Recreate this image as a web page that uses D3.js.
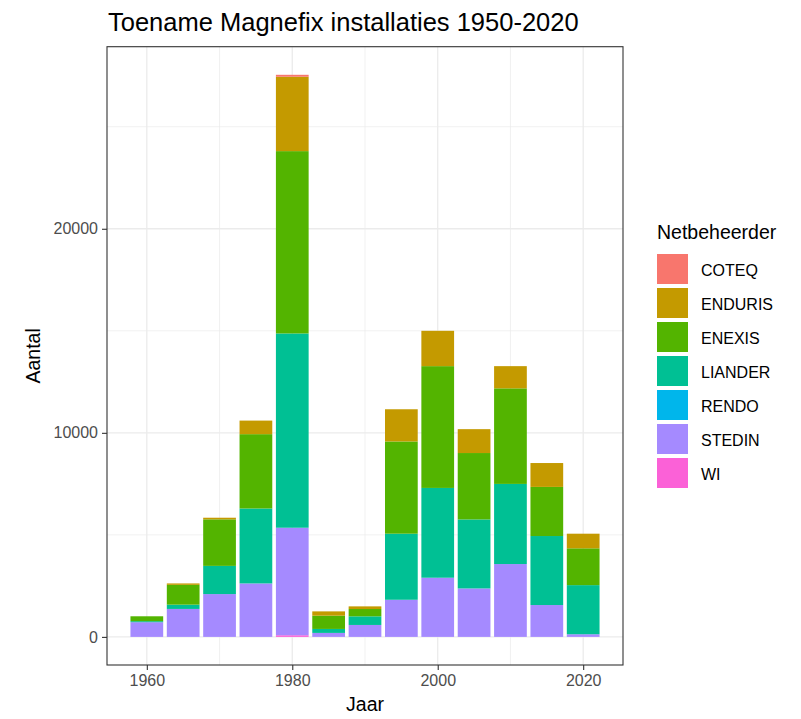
<!DOCTYPE html>
<html>
<head>
<meta charset="utf-8">
<script src="https://cdn.jsdelivr.net/npm/d3@7"></script>
<style>
  html, body { margin: 0; padding: 0; background: #fff; }
  svg { display: block; font-family: "Liberation Sans", Arial, Helvetica, sans-serif; }
</style>
</head>
<body>
<svg id="chart" width="801" height="719"></svg>
<script>
// ---- data ----
const years   = [1960, 1965, 1970, 1975, 1980, 1985, 1990, 1995, 2000, 2005, 2010, 2015, 2020];
const COTEQ   = [0,    0,    0,    0,    95,   0,    0,    0,    0,    0,    0,    0,    0];
const ENDURIS = [0,    70,   80,   665,  3645, 210,  130,  1578, 1732, 1170, 1088, 1170, 716];
const ENEXIS  = [240,  970,  2280, 3642, 8935, 650,  358,  4520, 5968, 3254, 4683, 2407, 1804];
const LIANDER = [50,   210,  1382, 3673, 9520, 195,  423,  3237, 4400, 3382, 3927, 3382, 2407];
const RENDO   = [0,    0,    0,    0,    0,    0,    0,    0,    0,    0,    0,    0,    0];
const STEDIN  = [720,  1370, 2098, 2620, 5270, 195,  585,  1820, 2900, 2374, 3570, 1561, 130];
const WI      = [0,    0,    0,    0,    80,   0,    0,    0,    0,    0,    0,    0,    0];

const seriesNames = ["COTEQ", "ENDURIS", "ENEXIS", "LIANDER", "RENDO", "STEDIN", "WI"];
const seriesColors = ["#F8766D", "#C49A00", "#53B400", "#00C094", "#00B6EB", "#A58AFF", "#FB61D7"];
const xTicks = [1960, 1980, 2000, 2020];
const xMinor = [1970, 1990, 2010];
const yTicks = [0, 10000, 20000];
const yMinor = [5000, 15000, 25000];
const titleText = "Toename Magnefix installaties 1950-2020";
const xTitle = "Jaar";
const yTitle = "Aantal";
const legendTitle = "Netbeheerder";

const seriesData = { COTEQ, ENDURIS, ENEXIS, LIANDER, RENDO, STEDIN, WI };
const table = years.map((y, i) => {
  const row = { year: y };
  seriesNames.forEach(n => row[n] = seriesData[n][i]);
  return row;
});

// ---- layout ----
const P = { left: 107, right: 623, top: 46.7, bottom: 665 };
const barW = 4.5; // years (0.9 * resolution)
const xr0 = years[0] - barW / 2, xr1 = years[years.length - 1] + barW / 2;
const xpad = (xr1 - xr0) * 0.05;
const x = d3.scaleLinear().domain([xr0 - xpad, xr1 + xpad]).range([P.left, P.right]);

const totals = table.map(r => seriesNames.reduce((s, n) => s + r[n], 0));
const maxT = d3.max(totals);
const y = d3.scaleLinear().domain([-0.05 * maxT, 1.05 * maxT]).range([P.bottom, P.top]);

const svg = d3.select("#chart");

// grid
const g = svg.append("g");
g.append("rect").attr("x", P.left).attr("y", P.top)
  .attr("width", P.right - P.left).attr("height", P.bottom - P.top).attr("fill", "#fff");
g.selectAll(".xminor").data(xMinor).join("line")
  .attr("x1", d => x(d)).attr("x2", d => x(d)).attr("y1", P.top).attr("y2", P.bottom)
  .attr("stroke", "#EBEBEB").attr("stroke-width", 0.7);
g.selectAll(".yminor").data(yMinor).join("line")
  .attr("y1", d => y(d)).attr("y2", d => y(d)).attr("x1", P.left).attr("x2", P.right)
  .attr("stroke", "#EBEBEB").attr("stroke-width", 0.7);
g.selectAll(".xmajor").data(xTicks).join("line")
  .attr("x1", d => x(d)).attr("x2", d => x(d)).attr("y1", P.top).attr("y2", P.bottom)
  .attr("stroke", "#EBEBEB").attr("stroke-width", 1.3);
g.selectAll(".ymajor").data(yTicks).join("line")
  .attr("y1", d => y(d)).attr("y2", d => y(d)).attr("x1", P.left).attr("x2", P.right)
  .attr("stroke", "#EBEBEB").attr("stroke-width", 1.3);

// bars
const stackKeys = seriesNames.slice().reverse(); // WI at bottom, COTEQ on top
const stacked = d3.stack().keys(stackKeys)(table);
const color = d3.scaleOrdinal().domain(seriesNames).range(seriesColors);
svg.append("g").selectAll("g").data(stacked).join("g")
  .attr("fill", d => color(d.key))
  .selectAll("rect").data(d => d).join("rect")
  .attr("x", d => x(d.data.year - barW / 2))
  .attr("width", d => x(d.data.year + barW / 2) - x(d.data.year - barW / 2))
  .attr("y", d => y(d[1]))
  .attr("height", d => Math.max(0, y(d[0]) - y(d[1])));

// panel border
svg.append("rect").attr("x", P.left).attr("y", P.top)
  .attr("width", P.right - P.left).attr("height", P.bottom - P.top)
  .attr("fill", "none").attr("stroke", "#333333").attr("stroke-width", 1.1);

// axes
const xAxis = d3.axisBottom(x).tickValues(xTicks).tickSize(5).tickPadding(5).tickFormat(d3.format("d"));
const yAxis = d3.axisLeft(y).tickValues(yTicks).tickSize(5).tickPadding(4).tickFormat(d3.format("d"));
const gx = svg.append("g").attr("transform", `translate(0,${P.bottom})`).call(xAxis);
const gy = svg.append("g").attr("transform", `translate(${P.left},0)`).call(yAxis);
[gx, gy].forEach(a => {
  a.select(".domain").remove();
  a.selectAll(".tick line").attr("stroke", "#333333").attr("stroke-width", 1.1);
  a.selectAll(".tick text").attr("fill", "#4D4D4D").style("font-size", "16px")
    .style("font-family", '"Liberation Sans", Arial, sans-serif');
});

// titles
svg.append("text").attr("x", P.left + 1).attr("y", 30.5)
  .attr("font-size", 25.5).attr("fill", "#000").text(titleText);
svg.append("text").attr("x", (P.left + P.right) / 2).attr("y", 711)
  .attr("text-anchor", "middle").attr("font-size", 19.5).attr("fill", "#000").text(xTitle);
svg.append("text").attr("transform", `translate(40,${(P.top + P.bottom) / 2}) rotate(-90)`)
  .attr("text-anchor", "middle").attr("font-size", 19.5).attr("fill", "#000").text(yTitle);

// legend
const L = { x: 657, titleY: 238.5, keyTop: 254, step: 34, keyW: 31, keyH: 30 };
const lg = svg.append("g");
lg.append("text").attr("x", L.x).attr("y", L.titleY).attr("font-size", 19.5).attr("fill", "#000").text(legendTitle);
const items = lg.selectAll(".item").data(seriesNames).join("g")
  .attr("transform", (d, i) => `translate(${L.x},${L.keyTop + i * L.step})`);
items.append("rect").attr("width", L.keyW).attr("height", L.keyH).attr("fill", d => color(d));
items.append("text").attr("x", 44).attr("y", L.keyH / 2 + 6.5)
  .attr("font-size", 16).attr("fill", "#000").text(d => d);
</script>
</body>
</html>
